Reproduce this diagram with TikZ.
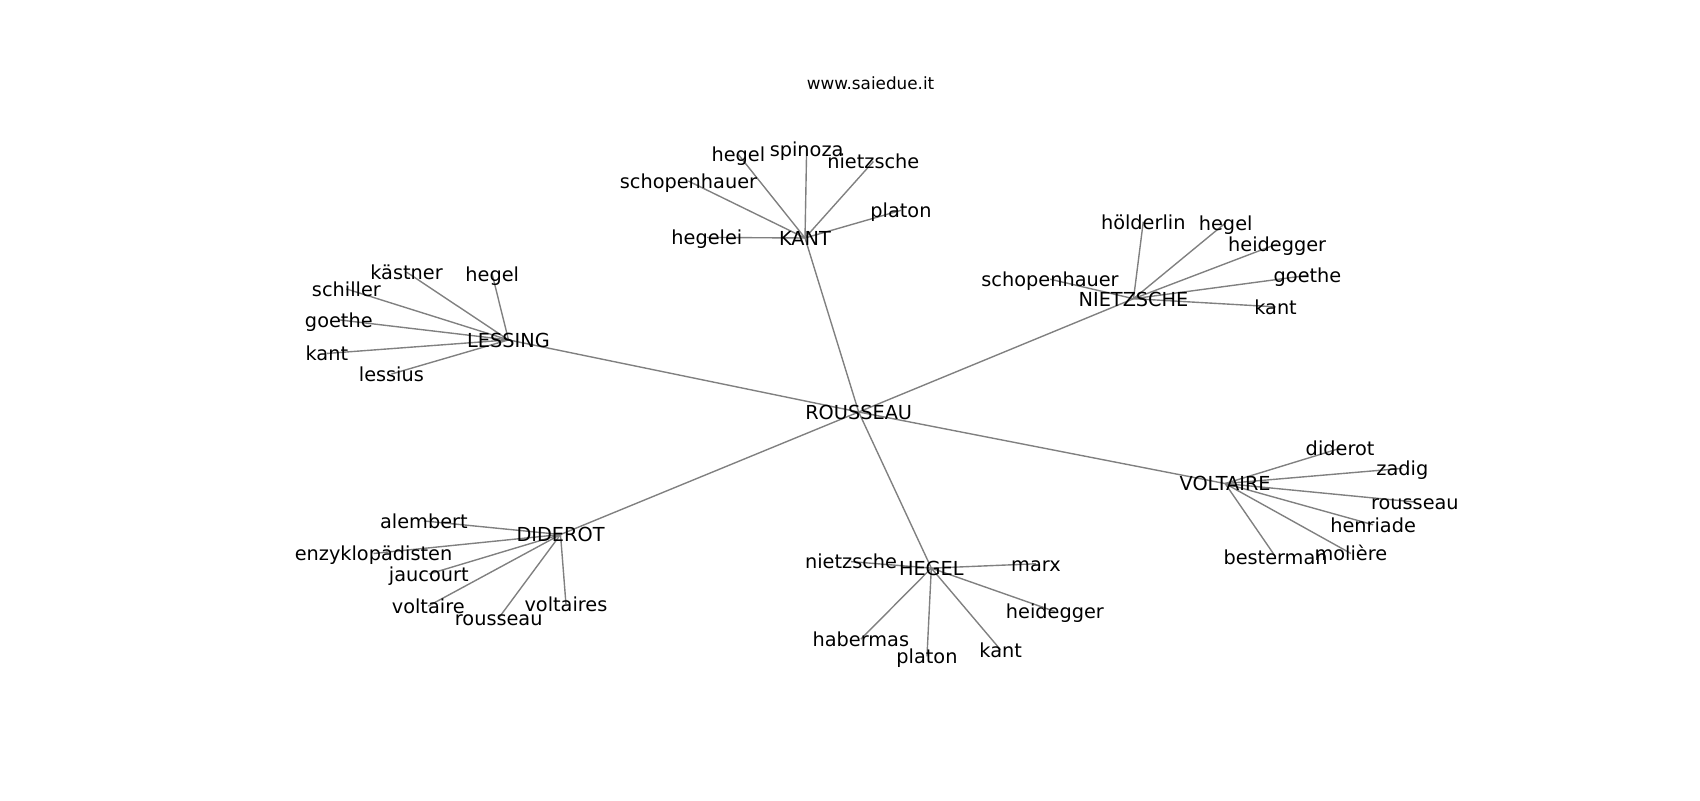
\documentclass[tikz,border=0pt]{standalone}
\usepackage{fontspec}
\setmainfont{DejaVu Sans}
\usetikzlibrary{backgrounds}

\begin{document}
\begin{tikzpicture}[
  x=0.7806pt, y=-0.7806pt,
  word/.style={inner sep=0pt,font=\fontsize{13.9}{16}\selectfont,text height=1.06em,text depth=0em},
  link/.style={draw=black!50,line width=1pt},
]
  \useasboundingbox (0,0) rectangle (1568,738);
  \node[inner sep=0pt,font=\fontsize{12.1}{14}\selectfont] (title) at (803,77) {www.saiedue.it};
  % centre and hubs
  \node[word] (rousseau) at (792,380) {ROUSSEAU};
  \node[word] (kant) at (742.5,219.5) {KANT};
  \node[word] (nietzsche) at (1045.5,275.5) {NIETZSCHE};
  \node[word] (lessing) at (469,313.5) {LESSING};
  \node[word] (voltaire) at (1130,446) {VOLTAIRE};
  \node[word] (diderot) at (517,493) {DIDEROT};
  \node[word] (hegel) at (859,524) {HEGEL};
  % kant
  \node[word] (kant-hegelei) at (652,219) {hegelei};
  \node[word] (kant-schopenhauer) at (635,167) {schopenhauer};
  \node[word] (kant-hegel) at (681,142.5) {hegel};
  \node[word] (kant-spinoza) at (744,137.5) {spinoza};
  \node[word] (kant-nietzsche) at (805.5,149) {nietzsche};
  \node[word] (kant-platon) at (831,194) {platon};
  % nietzsche
  \node[word] (nietzsche-hoelderlin) at (1054.5,204.5) {hölderlin};
  \node[word] (nietzsche-hegel) at (1130.5,205.5) {hegel};
  \node[word] (nietzsche-heidegger) at (1178,225) {heidegger};
  \node[word] (nietzsche-goethe) at (1206,254) {goethe};
  \node[word] (nietzsche-kant) at (1176.5,283) {kant};
  \node[word] (nietzsche-schopenhauer) at (968.5,257.5) {schopenhauer};
  % lessing
  \node[word] (lessing-kaestner) at (375,251) {kästner};
  \node[word] (lessing-hegel) at (454,253) {hegel};
  \node[word] (lessing-schiller) at (319.5,266.5) {schiller};
  \node[word] (lessing-goethe) at (312.5,295) {goethe};
  \node[word] (lessing-kant) at (301.5,326) {kant};
  \node[word] (lessing-lessius) at (361,345) {lessius};
  % voltaire
  \node[word] (voltaire-diderot) at (1236,413.5) {diderot};
  \node[word] (voltaire-zadig) at (1293.5,432) {zadig};
  \node[word] (voltaire-rousseau) at (1305,463) {rousseau};
  \node[word] (voltaire-henriade) at (1266.5,484) {henriade};
  \node[word] (voltaire-moliere) at (1246,510.5) {molière};
  \node[word] (voltaire-besterman) at (1176.5,513.5) {besterman};
  % diderot
  \node[word] (diderot-alembert) at (391,480.5) {alembert};
  \node[word] (diderot-enzyklopaedisten) at (344.5,510.5) {enzyklopädisten};
  \node[word] (diderot-jaucourt) at (395.5,529.5) {jaucourt};
  \node[word] (diderot-voltaire) at (395,559) {voltaire};
  \node[word] (diderot-rousseau) at (460,570) {rousseau};
  \node[word] (diderot-voltaires) at (522,557) {voltaires};
  % hegel
  \node[word] (hegel-nietzsche) at (785,518) {nietzsche};
  \node[word] (hegel-marx) at (955.5,520) {marx};
  \node[word] (hegel-heidegger) at (973,564) {heidegger};
  \node[word] (hegel-habermas) at (794,589.5) {habermas};
  \node[word] (hegel-platon) at (855,605.5) {platon};
  \node[word] (hegel-kant) at (923,599.5) {kant};
  % edges behind the words
  \begin{scope}[on background layer]
    \foreach \hub in {kant,nietzsche,lessing,voltaire,diderot,hegel}
      \draw[link] (rousseau.center) -- (\hub.center);
    \foreach \leaf in {hegelei,schopenhauer,hegel,spinoza,nietzsche,platon}
      \draw[link] (kant.center) -- (kant-\leaf.center);
    \foreach \leaf in {hoelderlin,hegel,heidegger,goethe,kant,schopenhauer}
      \draw[link] (nietzsche.center) -- (nietzsche-\leaf.center);
    \foreach \leaf in {kaestner,hegel,schiller,goethe,kant,lessius}
      \draw[link] (lessing.center) -- (lessing-\leaf.center);
    \foreach \leaf in {diderot,zadig,rousseau,henriade,moliere,besterman}
      \draw[link] (voltaire.center) -- (voltaire-\leaf.center);
    \foreach \leaf in {alembert,enzyklopaedisten,jaucourt,voltaire,rousseau,voltaires}
      \draw[link] (diderot.center) -- (diderot-\leaf.center);
    \foreach \leaf in {nietzsche,marx,heidegger,habermas,platon,kant}
      \draw[link] (hegel.center) -- (hegel-\leaf.center);
  \end{scope}
\end{tikzpicture}
\end{document}
